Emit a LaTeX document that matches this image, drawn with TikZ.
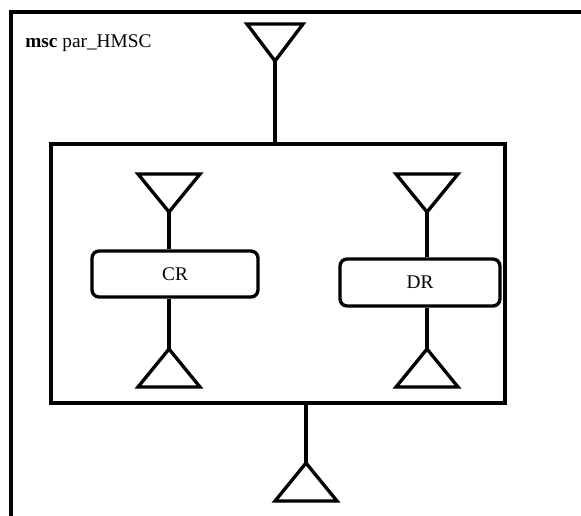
\documentclass[tikz,border=0pt]{standalone}
\usepackage{fontspec}
\setmainfont{Liberation Serif}
\usepackage{tikz}
\usetikzlibrary{positioning, calc}

\tikzset{
    hmscline/.style={line width=1.9pt, line join=miter},
    refbox/.style={draw, line width=1.9pt, rounded corners=4pt,
                   inner sep=0pt, font=\fontsize{11}{13}\selectfont},
}

\begin{document}
\begin{tikzpicture}[x=0.02cm, y=-0.02cm]

    \useasboundingbox (0,0) rectangle (581,515);
    \clip (0,0) rectangle (581,515);

    % FRAME
    \draw[hmscline] (11,540) -- (11,12) -- (600,12);
    \node[anchor=base west, inner sep=0pt, font=\fontsize{11}{13}\selectfont]
        (title) at (25,47) {\textbf{msc} par\_HMSC};

    % PAR FRAME
    \node[draw, hmscline, minimum width=9.08cm, minimum height=5.18cm,
          inner sep=0pt] (par) at (278,273.5) {};

    % REFERENCES
    \node[refbox, minimum width=3.32cm, minimum height=0.92cm]
        (CR) at (175,274) {CR};
    \node[refbox, minimum width=3.2cm, minimum height=0.94cm]
        (DR) at (420,282.5) {DR};

    % START SYMBOLS (apex down)
    \coordinate (S0) at (275,61);
    \coordinate (S1) at (169,212);
    \coordinate (S2) at (427,212);
    \draw[hmscline] (S0) -- ++(-28,-37) -- ++(56,0) -- cycle;
    \foreach \p in {S1,S2}
        \draw[hmscline] (\p) -- ++(-31,-38) -- ++(62,0) -- cycle;

    % END SYMBOLS (apex up)
    \coordinate (E0) at (306,463);
    \coordinate (E1) at (169,349);
    \coordinate (E2) at (427,349);
    \foreach \p in {E0,E1,E2}
        \draw[hmscline] (\p) -- ++(-31,38) -- ++(62,0) -- cycle;

    % CONNECTIONS
    \draw[hmscline] (S0) -- (S0 |- par.north);
    \draw[hmscline] (S1) -- (S1 |- CR.north);
    \draw[hmscline] (CR.south -| E1) -- (E1);
    \draw[hmscline] (S2) -- (S2 |- DR.north);
    \draw[hmscline] (DR.south -| E2) -- (E2);
    \draw[line width=2.4pt] (par.south -| E0) -- (E0);

\end{tikzpicture}
\end{document}
